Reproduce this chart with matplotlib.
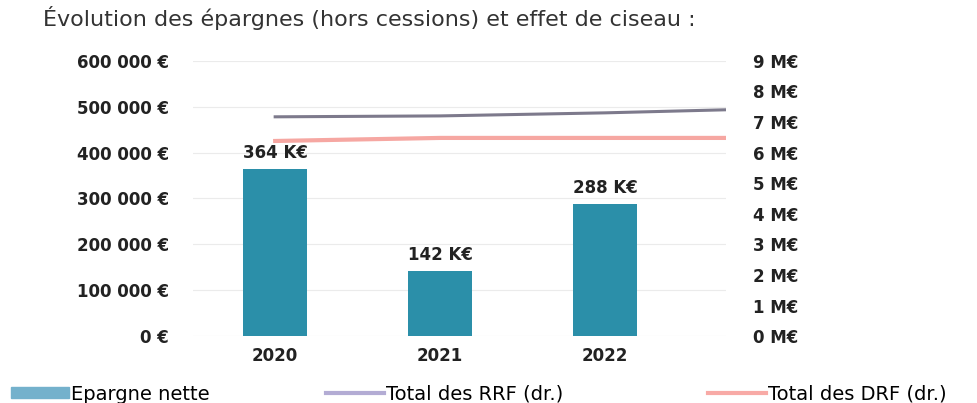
import matplotlib.pyplot as plt
from matplotlib.lines import Line2D
from matplotlib.patches import Patch
from matplotlib import rcParams
import numpy as np

rcParams.update({"font.family": "DejaVu Sans"})

# data
years = ["2020", "2021", "2022"]
epargne_nette = [364000, 142000, 288000]            # euros
epargne_labels = ["364 K€", "142 K€", "288 K€"]
rrf_total = [7.17, 7.20, 7.30, 7.40]                # M€, last value at right edge
drf_total = [6.38, 6.48, 6.48, 6.48]                # M€, last value at right edge
left_ticks = [0, 100000, 200000, 300000, 400000, 500000, 600000]
left_ticklabels = ["0 €", "100 000 €", "200 000 €", "300 000 €",
                   "400 000 €", "500 000 €", "600 000 €"]
right_ticks = list(range(0, 10))
right_ticklabels = [f"{v} M€" for v in right_ticks]
legend_labels = ["Epargne nette", "Total des RRF (dr.)", "Total des DRF (dr.)"]

bar_color = "#2b8fa9"
rrf_color = "#7d7a8c"
drf_color = "#f6a7a2"
txt = "#222222"

fig = plt.figure(figsize=(9.78, 4.03), dpi=100)
ax = fig.add_axes([0.197, 0.166, 0.545, 0.683])
x = np.arange(len(years))
xmin, xmax = -0.5, 2.73

### barres : épargne nette
ax.set_axisbelow(True)
bars = ax.bar(x, epargne_nette, width=0.39, color=bar_color, zorder=2)
for b, lab in zip(bars, epargne_labels):
    ax.annotate(lab, (b.get_x() + b.get_width() / 2, b.get_height()),
                xytext=(0, 5), textcoords="offset points", ha="center", va="bottom",
                fontsize=12, fontweight="bold", color=txt)
ax.set_ylim(0, 600000)
ax.set_yticks(left_ticks)
ax.set_yticklabels(left_ticklabels)
ax.set_xlim(xmin, xmax)
ax.set_xticks(x)
ax.set_xticklabels(years)
ax.grid(axis="y", color="#ebebeb", lw=0.8)
ax.tick_params(axis="y", length=0, pad=17, labelsize=12, labelcolor=txt)
ax.tick_params(axis="x", length=0, pad=8, labelsize=12, labelcolor=txt)
for t in ax.get_xticklabels() + ax.get_yticklabels():
    t.set_fontweight("bold")
for s in ax.spines.values():
    s.set_visible(False)

### courbes : RRF / DRF (axe droit)
ax2 = ax.twinx()
xl = list(x) + [xmax]
ax2.plot(xl, rrf_total, color=rrf_color, lw=2.2, zorder=3)
ax2.plot(xl, drf_total, color=drf_color, lw=3, zorder=3)
ax2.set_ylim(0, 9)
ax2.set_yticks(right_ticks)
ax2.set_yticklabels(right_ticklabels)
ax2.tick_params(axis="y", length=0, pad=20, labelsize=12, labelcolor=txt)
for t in ax2.get_yticklabels():
    t.set_fontweight("bold")
for s in ax2.spines.values():
    s.set_visible(False)

fig.text(0.044, 0.955, "Évolution des épargnes (hors cessions) et effet de ciseau :",
         fontsize=16, color="#333333", ha="left", va="center")

### légende : trois entrées placées séparément
handles = [Patch(color="#74b1cc"),
           Line2D([0], [0], color="#b3acd4", lw=3),
           Line2D([0], [0], color="#f8aaa6", lw=3)]
leg_x = [0.011, 0.333, 0.724]
for h, lab, lx in zip(handles, legend_labels, leg_x):
    fig.legend([h], [lab], loc="center left", bbox_to_anchor=(lx, 0.022),
               frameon=False, fontsize=14, borderaxespad=0, borderpad=0,
               handlelength=3.0, handleheight=0.5, handletextpad=0.1)

plt.savefig("out.png", dpi=100)
